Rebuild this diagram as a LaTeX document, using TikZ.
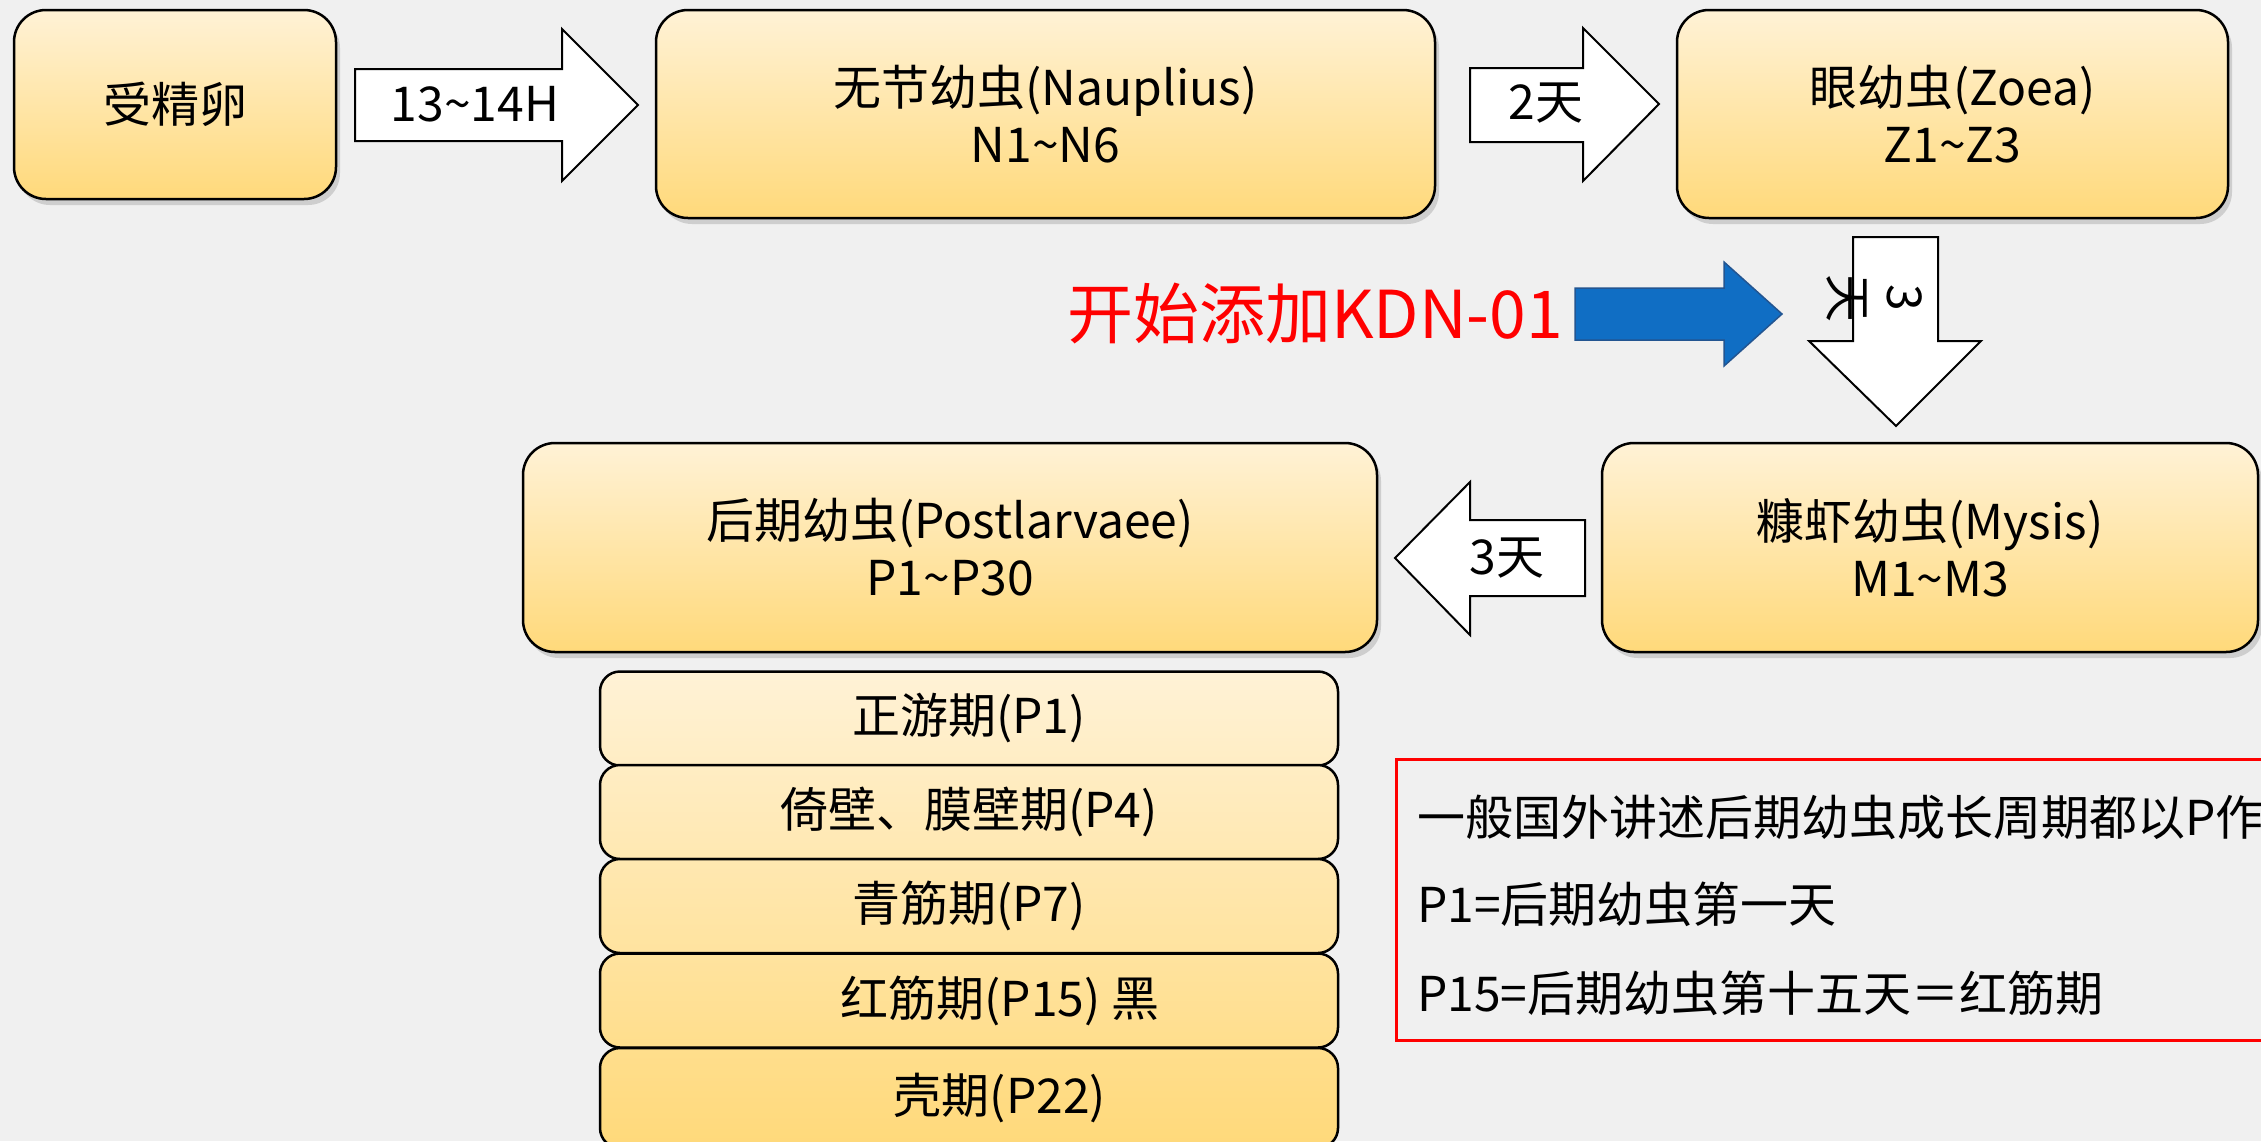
\documentclass[tikz,border=0pt]{standalone}
\usepackage{fontspec}
\setmainfont{Noto Sans CJK SC}
\usetikzlibrary{shadows}
\definecolor{bg}{RGB}{240,240,240}
\definecolor{gtop}{RGB}{255,242,214}
\definecolor{gbot}{RGB}{255,217,122}
\definecolor{kblue}{RGB}{16,110,196}
\definecolor{kblueline}{RGB}{35,85,145}
\newcommand\stagefont{\fontsize{48}{57}\selectfont}
\newcommand\tld{\textasciitilde}
\begin{document}
\begin{tikzpicture}[x=1pt,y=-1pt,
  stage/.style={draw=black, line width=2.5pt, rounded corners=32pt, top color=gtop, bottom color=gbot,
    drop shadow={shadow xshift=4pt, shadow yshift=-6pt, opacity=0.3}, align=center, inner sep=0pt, font=\stagefont},
  sub/.style={draw=black, line width=2.5pt, rounded corners=20pt, minimum width=738pt, minimum height=94pt,
    inner sep=0pt, font=\stagefont},
  blockarrow/.style={draw=black, line width=2pt, fill=white, line join=miter},
  lbl/.style={font=\stagefont, inner sep=0pt},
]
\fill[bg] (0,0) rectangle (2261,1141);
\useasboundingbox (0,0) rectangle (2261,1141);

% stage boxes
\node[stage, minimum width=322pt, minimum height=189pt] (egg) at (175,104.5) {受精卵};
\node[stage, minimum width=779pt, minimum height=208pt] (naup) at (1045.5,114) {无节幼虫(Nauplius)\\N1\tld N6};
\node[stage, minimum width=551pt, minimum height=208pt] (zoea) at (1952.5,114) {眼幼虫(Zoea)\\Z1\tld Z3};
\node[stage, minimum width=854pt, minimum height=209pt] (post) at (950,547.5) {后期幼虫(Postlarvaee)\\P1\tld P30};
\node[stage, minimum width=656pt, minimum height=209pt] (mysis) at (1930,547.5) {糠虾幼虫(Mysis)\\M1\tld M3};

% block arrows
\draw[blockarrow] (355,69) -- (562,69) -- (562,29) -- (638,105) -- (562,181) -- (562,141) -- (355,141) -- cycle;
\node[lbl] (a1) at (475,104) {13\tld 14H};
\draw[blockarrow] (1470,68) -- (1583,68) -- (1583,28) -- (1659,104) -- (1583,181) -- (1583,142) -- (1470,142) -- cycle;
\node[lbl] (a2) at (1546,103) {2天};
\draw[blockarrow] (1853,237) -- (1938,237) -- (1938,341) -- (1981,341) -- (1896,426) -- (1809,341) -- (1853,341) -- cycle;
\node[lbl, rotate=-90, align=center] (a3) at (1875,298) {3\\天};
\draw[blockarrow] (1585,520) -- (1470,520) -- (1470,482) -- (1395,558) -- (1470,635) -- (1470,596) -- (1585,596) -- cycle;
\node[lbl] (a4) at (1507,558) {3天};

% KDN-01
\node[font=\fontsize{66}{70}\selectfont, text=red, inner sep=0pt, anchor=west] (kdn) at (1067,314) {开始添加KDN-01};
\draw[draw=kblueline, fill=kblue, line width=1.5pt] (1575,288) -- (1724,288) -- (1724,262) -- (1782,314) -- (1724,366) -- (1724,340) -- (1575,340) -- cycle;

% stack of sub-stages
\node[sub, top color=gtop, bottom color=gbot!20!gtop] (s1) at (969,718.5) {正游期(P1)};
\node[sub, top color=gbot!20!gtop, bottom color=gbot!40!gtop] (s2) at (969,812) {倚壁、膜壁期(P4)};
\node[sub, top color=gbot!40!gtop, bottom color=gbot!60!gtop] (s3) at (969,906) {青筋期(P7)};
\node[sub, top color=gbot!60!gtop, bottom color=gbot!80!gtop] (s4) at (969,1000.5) {\hspace*{62pt}红筋期(P15) 黑};
\node[sub, top color=gbot!80!gtop, bottom color=gbot, minimum height=100pt] (s5) at (969,1098) {\hspace*{62pt}壳期(P22)};

% note box
\node[draw=red, line width=3pt, minimum width=925pt, minimum height=281pt, inner sep=0pt, anchor=north west] (note) at (1395,758) {};
\node[lbl, anchor=west] (n1) at (1417,817) {一般国外讲述后期幼虫成长周期都以P作};
\node[lbl, anchor=west] (n2) at (1417,904) {P1=后期幼虫第一天};
\node[lbl, anchor=west] (n3) at (1417,993) {P15=后期幼虫第十五天＝红筋期};
\end{tikzpicture}
\end{document}
